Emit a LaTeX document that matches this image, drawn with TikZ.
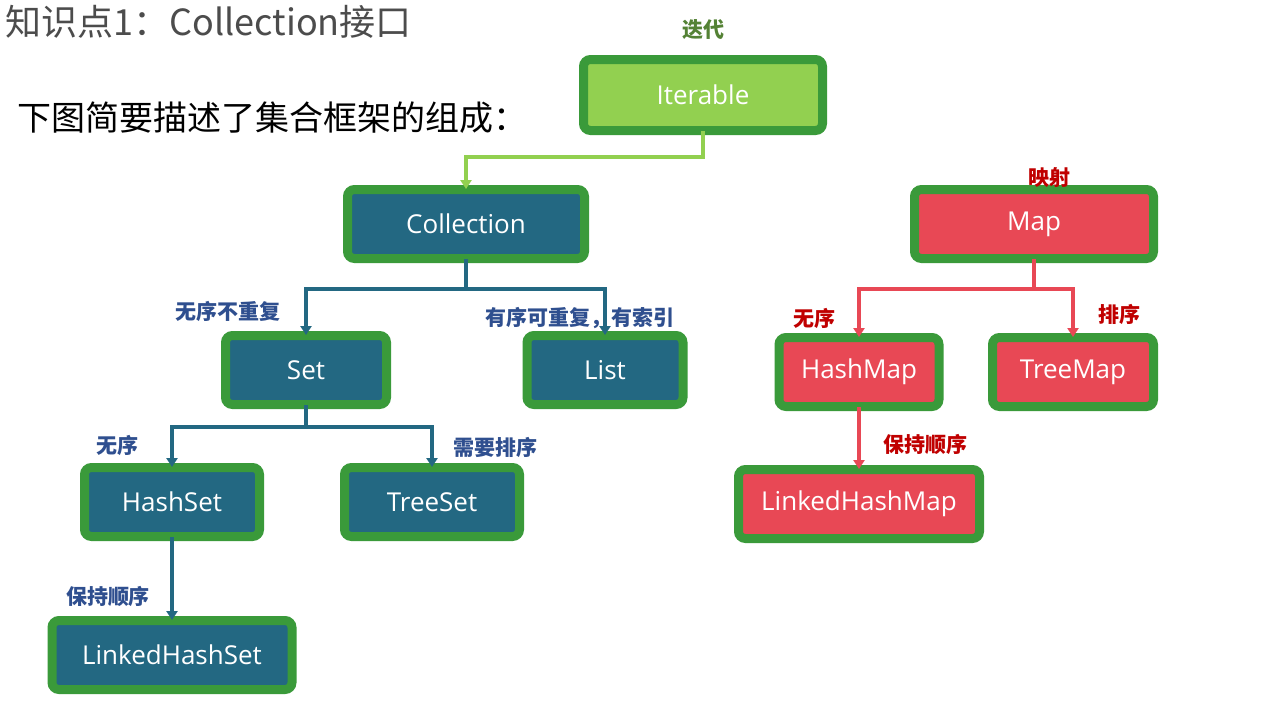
\documentclass[tikz,border=0pt]{standalone}
\usepackage{fontspec}
\setmainfont{Open Sans}
\newfontfamily\cjk{Noto Sans CJK SC}
\usetikzlibrary{arrows.meta}
\definecolor{frameg}{HTML}{3A9A3A}
\definecolor{teal}{HTML}{236882}
\definecolor{mred}{HTML}{E84855}
\definecolor{lgreen}{HTML}{92D050}
\definecolor{lblue}{HTML}{2F4F8F}
\definecolor{dred}{HTML}{C00000}
\definecolor{dgreen}{HTML}{548235}
\tikzset{
 box/.style={draw=frameg,line width=9pt,rounded corners=7pt,text=white,font=\fontsize{26}{30}\selectfont,inner sep=0pt},
 tbox/.style={box,fill=teal},
 rbox/.style={box,fill=mred},
 conn/.style={line width=4pt,-{Triangle[length=9pt,width=11pt]}},
 bl/.style={font=\cjk\bfseries\fontsize{21}{24}\selectfont,text=lblue},
 rl/.style={font=\cjk\bfseries\fontsize{21}{24}\selectfont,text=dred},
}
\begin{document}
\begin{tikzpicture}[x=1pt,y=-1pt]
\useasboundingbox (0,0) rectangle (1262,707);
\fill[white] (0,0) rectangle (1262,707);
\node[box,fill=lgreen,minimum width=239pt,minimum height=71pt] (it) at (703,95) {Iterable};
\node[tbox,minimum width=237pt,minimum height=69pt] (col) at (466,224) {Collection};
\node[rbox,minimum width=239pt,minimum height=69pt] (map) at (1034,224) {Map};
\node[tbox,minimum width=161pt,minimum height=69pt] (set) at (306,370) {Set};
\node[tbox,minimum width=156pt,minimum height=69pt] (list) at (605,370) {List};
\node[rbox,minimum width=160pt,minimum height=69pt] (hm) at (859,372) {HashMap};
\node[rbox,minimum width=161pt,minimum height=69pt] (tm) at (1073,372) {TreeMap};
\node[tbox,minimum width=175pt,minimum height=69pt] (hs) at (172,502) {HashSet};
\node[tbox,minimum width=175pt,minimum height=69pt] (ts) at (432,502) {TreeSet};
\node[rbox,minimum width=241pt,minimum height=69pt] (lhm) at (859,504) {LinkedHashMap};
\node[tbox,minimum width=240pt,minimum height=69pt] (lhs) at (172,655) {LinkedHashSet};
% connectors
\draw[conn,lgreen] ([yshift=4pt]it.south) -- ++(0,26) -| ([yshift=-4pt]col.north);
\draw[conn,teal] ([yshift=4pt]col.south) -- ++(0,30) -| ([yshift=-4pt]set.north);
\draw[conn,teal] ([yshift=4pt]col.south) -- ++(0,30) -| ([yshift=-4pt]list.north);
\draw[conn,teal] ([yshift=4pt]set.south) -- ++(0,22) -| ([yshift=-4pt]hs.north);
\draw[conn,teal] ([yshift=4pt]set.south) -- ++(0,22) -| ([yshift=-4pt]ts.north);
\draw[conn,teal] ([yshift=4pt]hs.south) -- ([yshift=-4pt]lhs.north);
\draw[conn,mred] ([yshift=4pt]map.south) -- ++(0,30) -| ([yshift=-4pt]hm.north);
\draw[conn,mred] ([yshift=4pt]map.south) -- ++(0,30) -| ([yshift=-4pt]tm.north);
\draw[conn,mred] ([yshift=4pt]hm.south) -- ([yshift=-4pt]lhm.north);
% texts
\node[anchor=west,text=black!70,font=\cjk\fontsize{36}{40}\selectfont] (title) at (2,22) {知识点1：Collection接口};
\node[anchor=west,font=\cjk\fontsize{34}{38}\selectfont] (sub) at (14,118) {下图简要描述了集合框架的组成：};
\node[font=\cjk\bfseries\fontsize{21}{24}\selectfont,text=dgreen] (l0) at (703,30) {迭代};
\node[bl] (l1) at (228,311) {无序不重复};
\node[bl] (l2) at (580,318) {有序可重复，有索引};
\node[bl] (l3) at (117,445) {无序};
\node[bl] (l4) at (495,447) {需要排序};
\node[bl] (l5) at (108,596) {保持顺序};
\node[rl] (l6) at (1049,178) {映射};
\node[rl] (l7) at (814,318) {无序};
\node[rl] (l8) at (1119,314) {排序};
\node[rl] (l9) at (925,444) {保持顺序};
\end{tikzpicture}
\end{document}
